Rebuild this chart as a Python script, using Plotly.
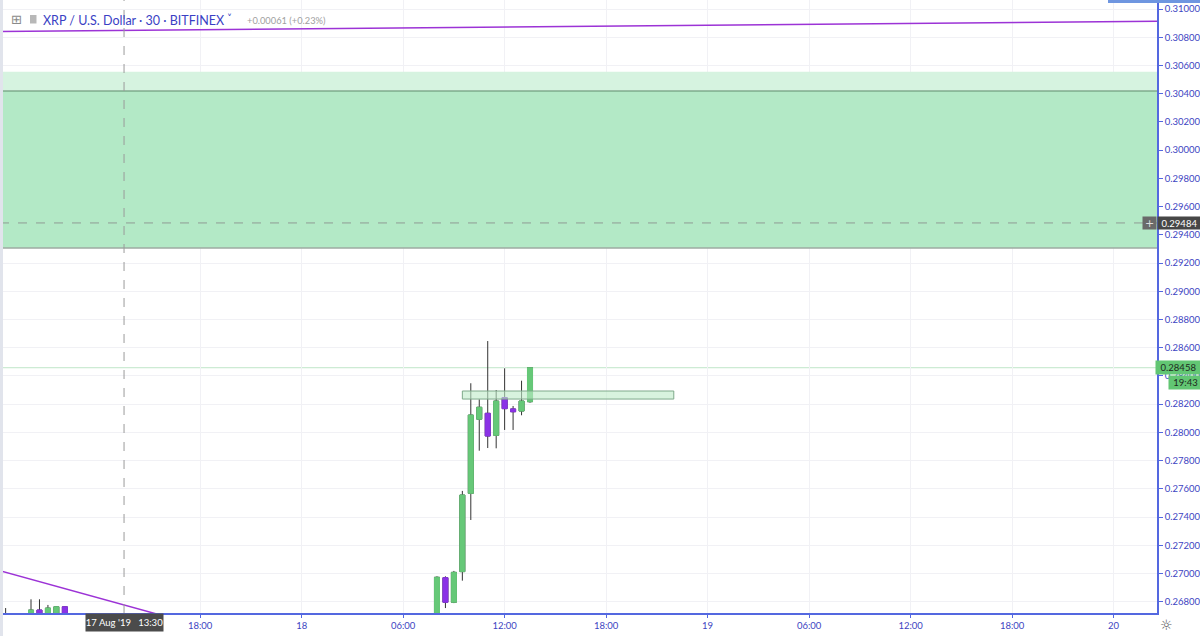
import plotly.graph_objects as go

# ---------------- data ----------------
times = ["2019-08-17 06:30", "2019-08-17 08:00", "2019-08-17 08:30", "2019-08-17 09:00",
         "2019-08-17 09:30", "2019-08-17 10:00",
         "2019-08-18 08:00", "2019-08-18 08:30", "2019-08-18 09:00", "2019-08-18 09:30",
         "2019-08-18 10:00", "2019-08-18 10:30", "2019-08-18 11:00", "2019-08-18 11:30",
         "2019-08-18 12:00", "2019-08-18 12:30", "2019-08-18 13:00", "2019-08-18 13:30"]
opens = [0.26690, 0.26680, 0.26741, 0.26690, 0.26690, 0.26764,
         0.26700, 0.26970, 0.26796, 0.27013, 0.27568, 0.28093, 0.28135, 0.27979,
         0.28246, 0.28166, 0.28151, 0.28217]
highs = [0.26755, 0.26817, 0.26817, 0.26777, 0.26766, 0.26766,
         0.26980, 0.26980, 0.27018, 0.27585, 0.28348, 0.28234, 0.28647, 0.28300,
         0.28454, 0.28187, 0.28366, 0.28458]
lows = [0.26650, 0.26650, 0.26650, 0.26650, 0.26650, 0.26650,
        0.26690, 0.26755, 0.26790, 0.26949, 0.27379, 0.27870, 0.27889, 0.27887,
        0.28017, 0.28017, 0.28121, 0.28210]
closes = [0.26700, 0.26741, 0.26690, 0.26755, 0.26764, 0.26690,
          0.26973, 0.26796, 0.27008, 0.27556, 0.28123, 0.28178, 0.27974, 0.28222,
          0.28168, 0.28146, 0.28222, 0.28458]

x_tickvals = ["2019-08-17 18:00", "2019-08-18 00:00", "2019-08-18 06:00", "2019-08-18 12:00",
              "2019-08-18 18:00", "2019-08-19 00:00", "2019-08-19 06:00", "2019-08-19 12:00",
              "2019-08-19 18:00", "2019-08-20 00:00"]
x_ticktext = ["18:00", "18", "06:00", "12:00", "18:00", "19", "06:00", "12:00", "18:00", "20"]

x_range = ["2019-08-17 06:10", "2019-08-20 02:34"]
y_range = [0.267199, 0.310638]

# drawings
upper_trend_t = ["2019-08-17 06:00", "2019-08-20 03:00"]
upper_trend_p = [0.30840, 0.30913]
lower_trend_t = ["2019-08-17 06:00", "2019-08-17 18:00"]
lower_trend_p = [0.27025, 0.26628]

zone_top = 0.30556
zone_mid = 0.30419
zone_bottom = 0.29306
level_price = 0.29484
last_price = 0.28458
box_t = ["2019-08-18 09:30", "2019-08-18 22:00"]
box_p = [0.28236, 0.28293]
cross_time = "2019-08-17 13:30"

header_title = "XRP / U.S. Dollar · 30 · BITFINEX"
header_change = "+0.00061 (+0.23%)"
cross_label = "17 Aug '19   13:30"
countdown = "19:43"

# ---------------- style ----------------
GREEN = "#66c878"
PURPLE = "#8b32e6"
WICK = "#333333"
BLUE = "#3d45c2"
AXIS_BLUE = "#5468e0"
GRID = "#f1f1f5"
PW, PH = 1157, 613  # plot area size in px


def px_x(px):
    return px / PW


def px_y(py):
    return 1 - py / PH


fig = go.Figure()

# trend lines
fig.add_trace(go.Scatter(x=upper_trend_t, y=upper_trend_p, mode="lines",
                         line=dict(color="#9c33d6", width=1.5), hoverinfo="skip"))
fig.add_trace(go.Scatter(x=lower_trend_t, y=lower_trend_p, mode="lines",
                         line=dict(color="#9c33d6", width=1.5), hoverinfo="skip"))

# wicks (dark)
fig.add_trace(go.Candlestick(
    x=times, open=opens, high=highs, low=lows, close=closes,
    increasing=dict(line=dict(color=WICK, width=1), fillcolor=WICK),
    decreasing=dict(line=dict(color=WICK, width=1), fillcolor=WICK),
    hoverinfo="skip"))
# bodies
body_hi = [max(o, c) for o, c in zip(opens, closes)]
body_lo = [min(o, c) for o, c in zip(opens, closes)]
fig.add_trace(go.Candlestick(
    x=times, open=opens, high=body_hi, low=body_lo, close=closes,
    increasing=dict(line=dict(color=GREEN, width=1), fillcolor=GREEN),
    decreasing=dict(line=dict(color=PURPLE, width=1), fillcolor=PURPLE),
    hoverinfo="skip"))

shapes = []
# green zone (drawn above the grid, like the reference)
shapes.append(dict(type="rect", xref="paper", yref="y", x0=0, x1=1, y0=zone_bottom, y1=zone_top,
                   fillcolor="#d6f3e0", line=dict(width=0), layer="above"))
shapes.append(dict(type="rect", xref="paper", yref="y", x0=0, x1=1, y0=zone_bottom, y1=zone_mid,
                   fillcolor="#b3e9c6", line=dict(width=0), layer="above"))
shapes.append(dict(type="line", xref="paper", yref="y", x0=0, x1=1, y0=zone_mid, y1=zone_mid,
                   line=dict(color="#5f8a6c", width=1)))
shapes.append(dict(type="line", xref="paper", yref="y", x0=0, x1=1, y0=zone_bottom, y1=zone_bottom,
                   line=dict(color="#9eaaa2", width=1.5)))
# dashed level
shapes.append(dict(type="line", xref="paper", yref="y", x0=0, x1=1, y0=level_price, y1=level_price,
                   line=dict(color="#8f9c94", width=1, dash="dash")))
# last price line
shapes.append(dict(type="line", xref="paper", yref="y", x0=0, x1=1, y0=last_price, y1=last_price,
                   line=dict(color="#bfe6c8", width=1), layer="below"))
# small rectangle
shapes.append(dict(type="rect", xref="x", yref="y", x0=box_t[0], x1=box_t[1], y0=box_p[0], y1=box_p[1],
                   fillcolor="rgba(190,235,200,0.6)", line=dict(color="#7fa98a", width=1)))
# crosshair vertical
shapes.append(dict(type="line", xref="x", yref="paper", x0=cross_time, x1=cross_time, y0=0, y1=1,
                   line=dict(color="#9a9a9a", width=1, dash="dash")))
# left edge strip
shapes.append(dict(type="rect", xref="paper", yref="paper", x0=0, x1=px_x(3), y0=-23 / PH, y1=1,
                   fillcolor="#e1e4ec", line=dict(width=0)))
# header grey square
shapes.append(dict(type="rect", xref="paper", yref="paper", x0=px_x(30), x1=px_x(36.5),
                   y0=px_y(23.5), y1=px_y(15), fillcolor="#b8b8b8", line=dict(width=0)))
# top-right blue bar
shapes.append(dict(type="rect", xref="paper", yref="paper", x0=px_x(1108), x1=px_x(1200),
                   y0=px_y(3), y1=1, fillcolor="#6f96e0", line=dict(width=0)))

annotations = []
# header
annotations.append(dict(xref="paper", yref="paper", x=px_x(16.5), y=px_y(19.5), text="⊞",
                        showarrow=False, xanchor="center", yanchor="middle",
                        font=dict(family="DejaVu Sans", size=13, color="#8a8a8a")))
annotations.append(dict(xref="paper", yref="paper", x=px_x(41), y=px_y(20), text=header_title,
                        showarrow=False, xanchor="left", yanchor="middle",
                        font=dict(family="Lato", size=12.5, color="#3a3fc4")))
annotations.append(dict(xref="paper", yref="paper", x=px_x(229), y=px_y(18.5), text="˅",
                        showarrow=False, xanchor="center", yanchor="middle",
                        font=dict(family="DejaVu Sans", size=10, color="#3a3fc4")))
annotations.append(dict(xref="paper", yref="paper", x=px_x(245), y=px_y(20), text=header_change,
                        showarrow=False, xanchor="left", yanchor="middle",
                        font=dict(family="Lato", size=9.3, color="#a0a0a0")))
# right labels
annotations.append(dict(xref="paper", yref="y", x=1, y=level_price, text="+", showarrow=False,
                        xanchor="right", yanchor="middle", width=13, height=12, borderpad=0,
                        bgcolor="#6a6a6a", font=dict(family="DejaVu Sans", size=11, color="#dddddd")))
annotations.append(dict(xref="paper", yref="y", x=1, y=level_price, text=f"{level_price:.5f}",
                        showarrow=False, xanchor="left", yanchor="middle", width=43, height=12,
                        borderpad=0, bgcolor="#474747",
                        font=dict(family="Lato", size=9.5, color="#ffffff")))
annotations.append(dict(xref="paper", yref="y", x=px_x(1155), y=last_price, text=f"{last_price:.5f}",
                        showarrow=False, xanchor="left", yanchor="middle", width=45, height=13,
                        borderpad=0, bgcolor="#62c673",
                        font=dict(family="Lato", size=9.5, color="#1e2a1e")))
annotations.append(dict(xref="paper", yref="paper", x=px_x(1167.5), y=px_y(375), text=countdown,
                        showarrow=False, xanchor="left", yanchor="top", width=33, height=13,
                        borderpad=0, bgcolor="#62c673",
                        font=dict(family="Lato", size=9.5, color="#1e2a1e")))
# crosshair time label
annotations.append(dict(xref="x", yref="paper", x=cross_time, y=0, text=cross_label,
                        showarrow=False, xanchor="center", yanchor="top", width=77, height=17,
                        borderpad=0, bgcolor="#4b4b4b",
                        font=dict(family="Lato", size=9.5, color="#ffffff")))
# gear icon
annotations.append(dict(xref="paper", yref="paper", x=px_x(1166), y=px_y(625), text="☼",
                        showarrow=False, xanchor="center", yanchor="middle",
                        font=dict(family="DejaVu Sans", size=14, color="#555555")))

fig.update_layout(
    width=1200, height=636,
    margin=dict(l=0, r=43, t=0, b=23, pad=0),
    paper_bgcolor="#ffffff", plot_bgcolor="#ffffff",
    showlegend=False,
    boxgap=0.3, boxgroupgap=0.15,
    shapes=shapes, annotations=annotations,
    xaxis=dict(
        type="date", range=x_range, rangeslider=dict(visible=False),
        tickmode="array", tickvals=x_tickvals, ticktext=x_ticktext,
        showgrid=True, gridcolor=GRID, gridwidth=1,
        showline=True, linecolor=AXIS_BLUE, linewidth=1.5,
        ticks="outside", ticklen=3, tickcolor=AXIS_BLUE,
        tickfont=dict(family="Lato", size=9.5, color=BLUE),
        zeroline=False, fixedrange=True,
    ),
    yaxis=dict(
        side="right", range=y_range, dtick=0.002, tick0=0.31, tickformat=".5f",
        showgrid=True, gridcolor=GRID, gridwidth=1,
        showline=True, linecolor=AXIS_BLUE, linewidth=1.5,
        ticks="outside", ticklen=4, tickcolor=AXIS_BLUE,
        tickfont=dict(family="Lato", size=9.5, color=BLUE),
        zeroline=False, fixedrange=True,
    ),
)

fig.write_html("out.html", config={"displayModeBar": False})
